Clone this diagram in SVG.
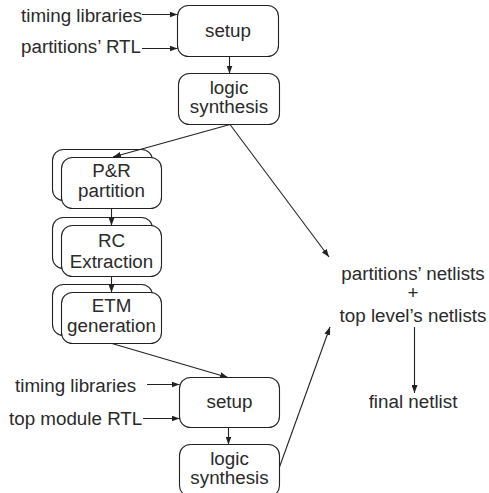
<svg xmlns="http://www.w3.org/2000/svg" width="489" height="493" viewBox="0 0 489 493">
<defs>
<marker id="ah" viewBox="0 0 8 6" refX="8" refY="3" markerWidth="8" markerHeight="6" markerUnits="userSpaceOnUse" orient="auto">
<path d="M0,0 L8,3 L0,6 Z" fill="#222"/>
</marker>
</defs>
<style>
text{font-family:"Liberation Sans",Arial,sans-serif;font-size:18.8px;fill:#2a2a2a}
.c{text-anchor:middle}
.box{fill:#fff;stroke:#222;stroke-width:1.1}
.ln{stroke:#222;stroke-width:1.1;fill:none;marker-end:url(#ah)}
</style>
<rect width="489" height="493" fill="#fff"/>

<g id="in1"><text x="21" y="22">timing libraries</text></g>
<g id="in2"><text x="21" y="53">partitions’ RTL</text></g>
<g id="setup1"><rect class="box" x="177.5" y="5.5" width="101" height="51" rx="11"/><text class="c" x="228" y="37">setup</text></g>
<g id="logic1"><rect class="box" x="178.5" y="73.5" width="101" height="51" rx="11"/><text class="c" x="229" y="94">logic</text><text class="c" x="229" y="113">synthesis</text></g>

<g id="pr"><rect class="box" x="52.5" y="149.5" width="100" height="51" rx="11"/><rect class="box" x="61.5" y="157.5" width="100" height="51" rx="11"/><text class="c" x="111.5" y="177">P&amp;R</text><text class="c" x="111.5" y="197">partition</text></g>
<g id="rc"><rect class="box" x="52.5" y="217.5" width="100" height="51" rx="11"/><rect class="box" x="61.5" y="225.5" width="100" height="51" rx="11"/><text class="c" x="111.5" y="247">RC</text><text class="c" x="111.5" y="268">Extraction</text></g>
<g id="etm"><rect class="box" x="52.5" y="284.5" width="100" height="51" rx="11"/><rect class="box" x="61.5" y="292.5" width="100" height="51" rx="11"/><text class="c" x="111.5" y="312">ETM</text><text class="c" x="111.5" y="332">generation</text></g>

<g id="in3"><text x="15" y="392">timing libraries</text></g>
<g id="in4"><text x="9" y="425">top module RTL</text></g>
<g id="setup2"><rect class="box" x="179.5" y="377.5" width="100" height="50" rx="11"/><text class="c" x="229.5" y="408">setup</text></g>
<g id="logic2"><rect class="box" x="179.5" y="444.5" width="100" height="52" rx="11"/><text class="c" x="229.5" y="465">logic</text><text class="c" x="229.5" y="484">synthesis</text></g>

<g id="netlists"><text class="c" x="413" y="280">partitions’ netlists</text><text class="c" x="413" y="299">+</text><text class="c" x="413" y="322">top level’s netlists</text></g>
<g id="final"><text class="c" x="413" y="408">final netlist</text></g>

<g id="connectors">
<line class="ln" x1="142" y1="14.5" x2="177.5" y2="14.5"/>
<line class="ln" x1="142" y1="48.5" x2="177.5" y2="48.5"/>
<line class="ln" x1="229.5" y1="56.5" x2="229.5" y2="73.5"/>
<line class="ln" x1="230" y1="124.5" x2="113" y2="157"/>
<line class="ln" x1="230" y1="124.5" x2="329" y2="257"/>
<line class="ln" x1="111.5" y1="208.5" x2="111.5" y2="225.5"/>
<line class="ln" x1="111.5" y1="276.5" x2="111.5" y2="292.5"/>
<line class="ln" x1="112" y1="343.5" x2="228" y2="377.5"/>
<line class="ln" x1="147" y1="384.5" x2="179.5" y2="384.5"/>
<line class="ln" x1="143" y1="418.5" x2="179.5" y2="418.5"/>
<line class="ln" x1="228.5" y1="427.5" x2="228.5" y2="444.5"/>
<line class="ln" x1="279.5" y1="467" x2="330" y2="327"/>
<line class="ln" x1="414.5" y1="327" x2="414.5" y2="393"/>
</g>
</svg>
